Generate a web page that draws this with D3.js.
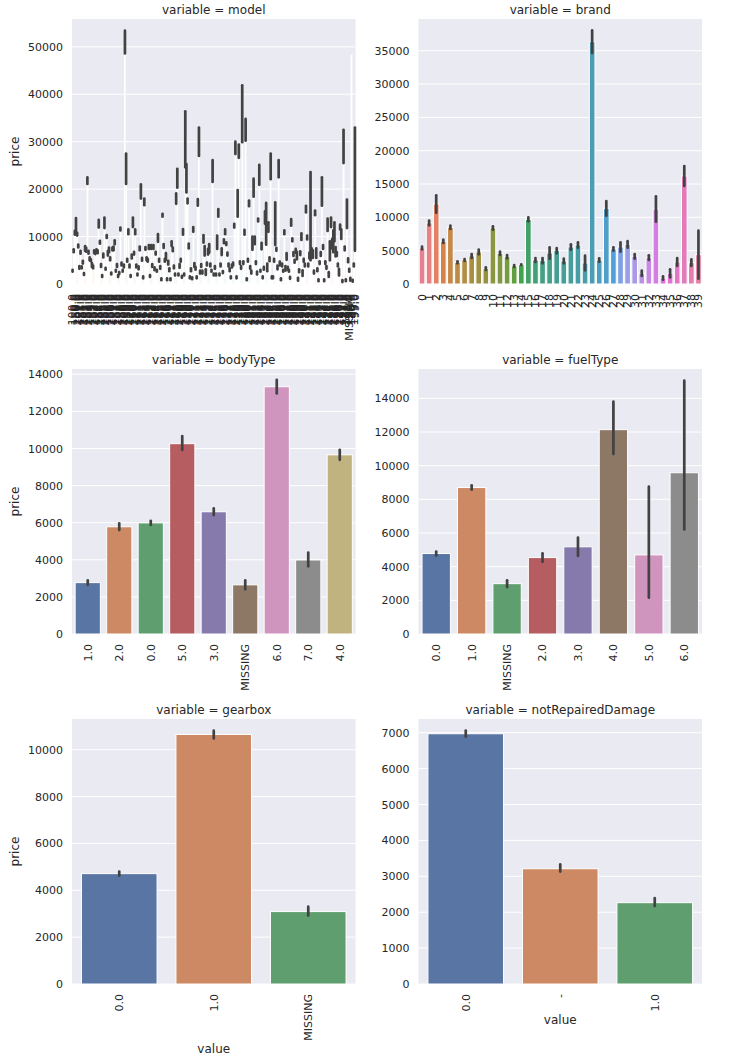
<!DOCTYPE html>
<html><head><meta charset="utf-8">
<script src="https://cdn.jsdelivr.net/npm/d3@7"></script>
<style>
body{margin:0;background:#fff;}
text{font-family:"DejaVu Sans",sans-serif;fill:#262626;}
</style>
</head><body>
<svg id="c" width="730" height="1064"></svg>
<script>
// ---------------- DATA ----------------
const modelLabels = (
"100.0 0.0 150.0 50.0 200.0 101.0 1.0 151.0 51.0 201.0 102.0 2.0 152.0 52.0 202.0 103.0 3.0 153.0 53.0 203.0 " +
"104.0 4.0 154.0 54.0 204.0 105.0 5.0 155.0 55.0 205.0 106.0 6.0 156.0 56.0 206.0 107.0 7.0 157.0 57.0 207.0 " +
"108.0 8.0 158.0 58.0 208.0 109.0 9.0 159.0 59.0 209.0 110.0 10.0 160.0 60.0 210.0 111.0 11.0 161.0 61.0 211.0 " +
"112.0 12.0 162.0 62.0 212.0 113.0 13.0 163.0 63.0 213.0 114.0 14.0 164.0 64.0 214.0 115.0 15.0 165.0 65.0 215.0 " +
"116.0 16.0 166.0 66.0 216.0 117.0 17.0 167.0 67.0 217.0 118.0 18.0 168.0 68.0 218.0 119.0 19.0 169.0 69.0 219.0 " +
"120.0 20.0 170.0 70.0 220.0 121.0 21.0 171.0 71.0 221.0 122.0 22.0 172.0 72.0 222.0 123.0 23.0 173.0 73.0 223.0 " +
"124.0 24.0 174.0 74.0 224.0 125.0 25.0 175.0 75.0 225.0 126.0 26.0 176.0 76.0 226.0 127.0 27.0 177.0 77.0 227.0 " +
"128.0 28.0 178.0 78.0 228.0 129.0 29.0 179.0 79.0 229.0 130.0 30.0 180.0 80.0 230.0 131.0 31.0 181.0 81.0 231.0 " +
"132.0 32.0 182.0 82.0 232.0 133.0 33.0 183.0 83.0 233.0 134.0 34.0 184.0 84.0 234.0 135.0 35.0 185.0 85.0 235.0 " +
"136.0 36.0 186.0 86.0 236.0 137.0 37.0 187.0 87.0 237.0 138.0 38.0 188.0 88.0 238.0 139.0 39.0 189.0 89.0 239.0 " +
"140.0 40.0 190.0 90.0 240.0 141.0 41.0 191.0 91.0 241.0 142.0 42.0 192.0 92.0 242.0 143.0 43.0 193.0 93.0 243.0 " +
"144.0 44.0 194.0 94.0 244.0 145.0 45.0 195.0 95.0 245.0 146.0 46.0 196.0 96.0 246.0 147.0 47.0 197.0 97.0 247.0 " +
"148.0 48.0 198.0 MISSING 98.0 149.0 49.0 199.0 99.0").split(" ");

const modelMean = [
2800,7000,10800,12500,10500,8000,3500,6700,3500,4600,
2100,7500,7200,21800,6700,5300,5000,4000,3600,6800,
6600,7000,6800,12700,8800,3900,1700,6000,12900,3200,
10000,6500,7200,5300,2200,7400,7500,8800,2800,3900,
1700,2300,11600,4200,2800,3800,51000,24300,5000,11000,
3800,1700,5800,13000,6500,11000,3800,2000,3400,7500,
19500,5200,1400,17300,7500,5300,5000,7800,1700,7800,
3900,7800,3200,6500,2800,9700,5000,3500,1000,14500,
8000,5000,5800,1000,4500,3000,1000,8500,7300,3600,
2000,18000,22300,2000,3800,5000,1500,11000,2000,30500,
22300,17500,8000,1400,3000,1200,11500,4000,3300,1400,
17200,30000,2500,3900,2500,9500,7000,2500,4200,6800,
7500,4000,2800,23800,2000,3500,2000,8800,15000,2000,
4000,6800,2500,9000,11000,8500,6300,4000,3000,1400,
3800,4200,12300,28700,1400,17000,28000,4500,3500,35900,
4500,10900,32500,1000,5000,17000,3500,2500,8600,20300,
9200,4500,2300,13500,23000,2800,8000,1400,3300,14000,
12700,3500,12000,5200,24800,1400,1400,5000,12700,7300,
3500,24300,4300,1000,4000,2800,10900,3300,5800,3300,
2800,1300,13000,9300,6300,4800,7000,6000,1000,2800,
6500,10000,2300,5000,4000,15800,9800,4000,6000,14300,
6500,6300,2500,15000,6500,3000,800,4500,6300,19500,
7800,800,4500,3500,12500,2000,7000,13000,8500,9000,
11000,6800,6300,4000,2500,12000,10500,600,29000,7500,
800,14800,5000,2900,1000,48300,700,4000,20000];

const modelErr = [
200,300,400,1400,300,300,300,300,200,300,
200,500,400,700,300,300,200,400,300,300,
300,300,300,800,300,300,200,400,1100,200,
300,500,500,300,200,300,400,400,200,300,
200,200,300,300,200,300,2400,3200,300,500,
300,200,400,1000,300,500,300,200,300,400,
1500,300,200,700,300,300,300,400,200,400,
300,400,300,300,200,800,300,300,200,300,
400,300,700,200,400,300,200,500,400,300,
200,1100,2000,200,400,300,200,600,200,5900,
3000,500,500,200,300,200,500,400,300,200,
700,3000,300,300,300,800,1000,600,300,600,
900,300,200,2300,200,300,200,1400,800,200,
300,700,200,400,500,300,300,300,300,200,
300,300,400,1300,200,2800,1400,300,300,6000,
300,500,2300,200,300,600,300,300,1400,1900,
800,300,300,300,2100,200,700,200,300,1300,
4400,800,1000,400,2700,200,200,300,4500,300,
400,1800,400,200,300,200,400,500,700,300,
200,200,700,300,400,300,400,800,300,300,
400,700,600,300,300,700,400,300,600,9300,
1000,800,300,500,1000,300,200,300,400,3000,
400,200,300,300,1300,500,2000,1000,1000,2300,
2000,1000,400,300,700,500,1000,200,3500,400,
200,3000,400,300,300,0,200,300,13000];

const brandLabels = ["0","1","2","3","4","5","6","7","8","9","10","11","12","13","14","15","16","17","18","19",
"20","21","22","23","24","25","26","27","28","29","30","31","32","33","34","35","36","37","38","39"];
const brandMean = [5400,9160,12000,6400,8500,3250,3600,4200,4800,2300,8400,4600,4100,2700,2900,9700,3600,3500,4650,5000,
3450,5550,5850,3150,36350,3600,11350,5250,5550,5950,4150,1600,3950,11250,900,1600,3300,16200,3200,4400];
const brandErr = [200,350,1300,250,250,150,150,300,350,200,250,250,250,150,50,300,300,400,850,400,
350,400,400,1100,1700,250,1100,250,700,500,350,400,350,1900,250,600,600,1500,500,3600];

const bodyLabels = ["1.0","2.0","0.0","5.0","3.0","MISSING","6.0","7.0","4.0"];
const bodyMean = [2770,5780,5990,10260,6590,2650,13330,3990,9660];
const bodyLo   = [2650,5600,5880,9920,6410,2410,12970,3650,9390];
const bodyHi   = [2890,5960,6100,10670,6770,2890,13700,4390,9930];

const fuelLabels = ["0.0","1.0","MISSING","2.0","3.0","4.0","5.0","6.0"];
const fuelMean = [4780,8700,2990,4540,5180,12140,4700,9580];
const fuelLo   = [4660,8570,2790,4290,4640,10690,2160,6210];
const fuelHi   = [4900,8830,3190,4790,5730,13800,8750,15050];

const gearLabels = ["0.0","1.0","MISSING"];
const gearMean = [4710,10650,3090];
const gearLo   = [4620,10480,2920];
const gearHi   = [4800,10810,3300];

const dmgLabels = ["0.0","-","1.0"];
const dmgMean = [6970,3210,2265];
const dmgLo   = [6890,3130,2170];
const dmgHi   = [7060,3330,2390];

const modelTicks = [0,10000,20000,30000,40000,50000];
const brandTicks = [0,5000,10000,15000,20000,25000,30000,35000];
const bodyTicks  = [0,2000,4000,6000,8000,10000,12000,14000];
const fuelTicks  = [0,2000,4000,6000,8000,10000,12000,14000];
const gearTicks  = [0,2000,4000,6000,8000,10000];
const dmgTicks   = [0,1000,2000,3000,4000,5000,6000,7000];

// ---------------- COLOURS ----------------
const M = [[3.240969941904521,-1.537383177570093,-0.498610760293],
           [-0.96924363628087,1.87596750150772,0.041555057407175],
           [0.055630079696993,-0.20397695888897,1.056971514242878]];
const refU=0.19783000664283, refV=0.46831999493879, kappa=903.2962962, eps=0.0088564516;
function getBounds(L){
  const sub1=Math.pow(L+16,3)/1560896, sub2=sub1>eps?sub1:L/kappa, res=[];
  for(let c=0;c<3;c++){const [m1,m2,m3]=M[c];
    for(let t=0;t<2;t++){
      const top1=(284517*m1-94839*m3)*sub2;
      const top2=(838422*m3+769860*m2+731718*m1)*L*sub2-769860*t*L;
      const bottom=(632260*m3-126452*m2)*sub2+126452*t;
      res.push([top1/bottom, top2/bottom]);}}
  return res;
}
function maxChroma(L,H){const hr=H/360*Math.PI*2;let mn=Infinity;
  for(const [s,i] of getBounds(L)){const len=i/(Math.sin(hr)-s*Math.cos(hr)); if(len>=0) mn=Math.min(mn,len);} return mn;}
function hsluv(H,S,L){
  const C=maxChroma(L,H)/100*S, hr=H/180*Math.PI;
  const U=C*Math.cos(hr), V=C*Math.sin(hr);
  const vu=U/(13*L)+refU, vv=V/(13*L)+refV;
  const Y = L<=8 ? L/kappa : Math.pow((L+16)/116,3);
  const X = -(9*Y*vu)/((vu-4)*vv - vu*vv);
  const Z = (9*Y-15*vv*Y-vv*X)/(3*vv);
  const f=c=>c<=0.0031308?12.92*c:1.055*Math.pow(c,1/2.4)-0.055;
  return M.map(r=>Math.max(0,Math.min(1,f(r[0]*X+r[1]*Y+r[2]*Z))));
}
function desat(c){const h=d3.hsl(c); h.s*=0.75; return h.formatHex();}
function huslPalette(n){
  return d3.range(n).map(i=>{const h=((i/n+0.01)%1)*359;
    const rgb=hsluv(h,0.9*99,0.65*99); return desat(d3.rgb(rgb[0]*255,rgb[1]*255,rgb[2]*255));});
}
const deep = ["#4C72B0","#DD8452","#55A868","#C44E52","#8172B3","#937860","#DA8BC3","#8C8C8C","#CCB974","#64B5CD"].map(desat);

// ---------------- LAYOUT ----------------
const svg = d3.select("#c");
const COLX = [[72,355.5],[418.5,702]];
const ROWY = [19,369,719];
const H = 265;

const panels = [
  {name:"model", labels:modelLabels, mean:modelMean, lo:modelMean.map((m,i)=>m-modelErr[i]), hi:modelMean.map((m,i)=>m+modelErr[i]),
   ticks:modelTicks, ymax:55870, col:0, row:0, colors:huslPalette(modelLabels.length)},
  {name:"brand", labels:brandLabels, mean:brandMean, lo:brandMean.map((m,i)=>m-brandErr[i]), hi:brandMean.map((m,i)=>m+brandErr[i]),
   ticks:brandTicks, ymax:39760, col:1, row:0, colors:huslPalette(brandLabels.length)},
  {name:"bodyType", labels:bodyLabels, mean:bodyMean, lo:bodyLo, hi:bodyHi, ticks:bodyTicks, ymax:14286, col:0, row:1, colors:deep},
  {name:"fuelType", labels:fuelLabels, mean:fuelMean, lo:fuelLo, hi:fuelHi, ticks:fuelTicks, ymax:15743, col:1, row:1, colors:deep},
  {name:"gearbox", labels:gearLabels, mean:gearMean, lo:gearLo, hi:gearHi, ticks:gearTicks, ymax:11310, col:0, row:2, colors:deep, xlabel:true},
  {name:"notRepairedDamage", labels:dmgLabels, mean:dmgMean, lo:dmgLo, hi:dmgHi, ticks:dmgTicks, ymax:7381, col:1, row:2, colors:deep, xlabel:true}
];

panels.forEach(p=>{
  const [x0,x1] = COLX[p.col];
  const y0 = ROWY[p.row], y1 = y0+H;
  const x = d3.scaleBand().domain(d3.range(p.labels.length)).range([x0,x1]).paddingInner(0.2).paddingOuter(0.1);
  const y = d3.scaleLinear().domain([0,p.ymax]).range([y1,y0]);
  const g = svg.append("g");
  g.append("rect").attr("x",x0).attr("y",y0).attr("width",x1-x0).attr("height",H).attr("fill","#EAEAF2");
  g.selectAll("line.grid").data(p.ticks).join("line")
    .attr("x1",x0).attr("x2",x1).attr("y1",d=>y(d)).attr("y2",d=>y(d))
    .attr("stroke","#fff").attr("stroke-width",1);
  g.selectAll("rect.bar").data(p.mean).join("rect")
    .attr("x",(d,i)=>x(i)).attr("width",x.bandwidth())
    .attr("y",d=>y(d)).attr("height",d=>y1-y(d))
    .attr("fill",(d,i)=>p.colors[i%p.colors.length])
    .attr("stroke","#fff").attr("stroke-width",1);
  g.selectAll("line.err").data(p.mean.map((m,i)=>i).filter(i=>p.hi[i]>p.lo[i])).join("line")
    .attr("x1",i=>x(i)+x.bandwidth()/2).attr("x2",i=>x(i)+x.bandwidth()/2)
    .attr("y1",i=>y(p.lo[i])).attr("y2",i=>y(p.hi[i]))
    .attr("stroke","#424242").attr("stroke-width",2.7).attr("stroke-linecap","round");
  // y axis
  const ya = g.append("g").attr("transform",`translate(${x0},0)`)
    .call(d3.axisLeft(y).tickValues(p.ticks).tickFormat(d3.format("d")).tickSize(0).tickPadding(9));
  ya.select(".domain").remove();
  ya.selectAll("text").attr("font-size",11).attr("font-family","DejaVu Sans").attr("fill","#262626");
  // x axis
  const xa = g.append("g").attr("transform",`translate(0,${y1})`)
    .call(d3.axisBottom(x).tickFormat(i=>p.labels[i]).tickSize(0));
  xa.select(".domain").remove();
  xa.selectAll("text").attr("font-size",11).attr("font-family","DejaVu Sans").attr("fill","#262626")
    .attr("transform","rotate(-90)").attr("text-anchor","end")
    .attr("x",-10).attr("y",0).attr("dy","0.35em");
  // title
  g.append("text").attr("x",(x0+x1)/2).attr("y",y0-5.5).attr("text-anchor","middle")
    .attr("font-size",12).text("variable = "+p.name);
  if(p.col===0){
    g.append("text").attr("transform",`translate(19,${(y0+y1)/2}) rotate(-90)`)
      .attr("text-anchor","middle").attr("font-size",12).text("price");
  }
  if(p.xlabel){
    const bb = xa.node().getBBox();
    g.append("text").attr("x",(x0+x1)/2).attr("y",y1+bb.y+bb.height+12.7)
      .attr("text-anchor","middle").attr("font-size",12).text("value");
  }
});
</script>
</body></html>
